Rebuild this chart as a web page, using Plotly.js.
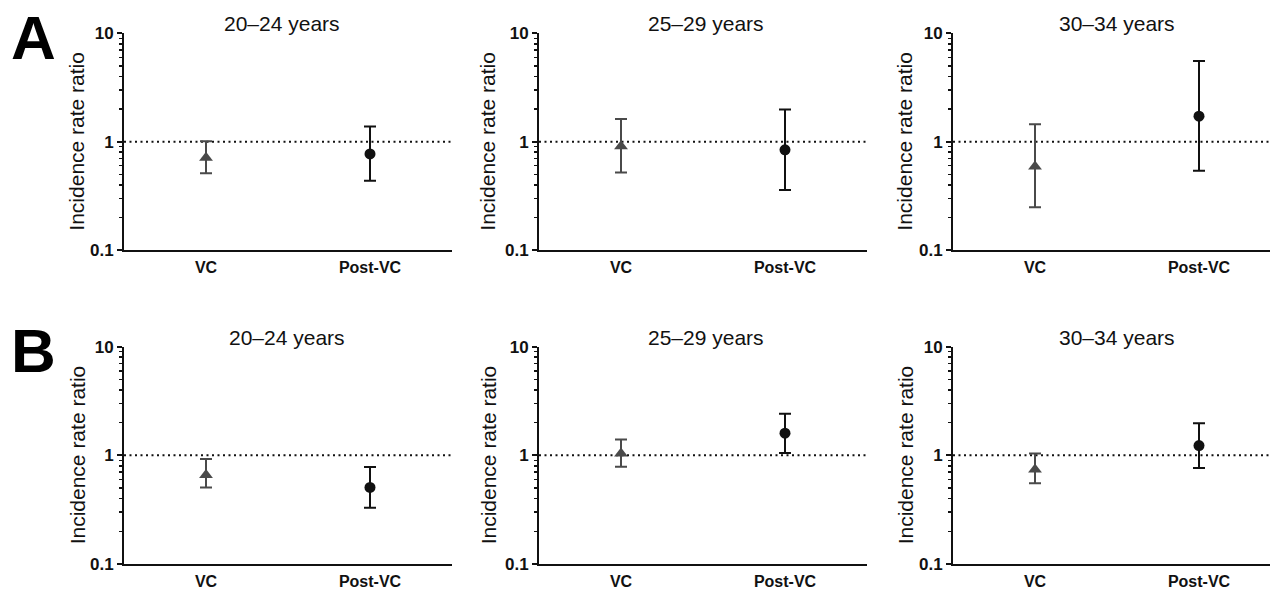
<!DOCTYPE html>
<html>
<head>
<meta charset="utf-8">
<script src="https://cdn.plot.ly/plotly-3.0.1.min.js"></script>
<style>
html,body{margin:0;padding:0;background:#fff;}
#chart{width:1270px;height:590px;}
</style>
</head>
<body>
<div id="chart"></div>
<script>
// ---- data ----
const categories = ['VC', 'Post-VC'];
const ageGroups = ['20–24 years', '25–29 years', '30–34 years'];
const panelLabels = ['A', 'B'];
const yTickVals = [0.1, 1, 10];
const yTickText = ['0.1', '1', '10'];
const yMinorVals = [0.2, 0.3, 0.4, 0.5, 0.6, 0.7, 0.8, 0.9, 2, 3, 4, 5, 6, 7, 8, 9];
const referenceValue = 1;

// Panel A
const estA_VC   = [0.71, 0.905, 0.59];
const upA_VC    = [1.01, 1.62, 1.45];
const loA_VC    = [0.51, 0.52, 0.248];
const estA_Post = [0.77, 0.84, 1.72];
const upA_Post  = [1.38, 1.98, 5.54];
const loA_Post  = [0.435, 0.357, 0.54];

// Panel B
const estB_VC   = [0.66, 1.04, 0.74];
const upB_VC    = [0.925, 1.40, 1.04];
const loB_VC    = [0.507, 0.786, 0.555];
const estB_Post = [0.507, 1.60, 1.23];
const upB_Post  = [0.78, 2.41, 1.97];
const loB_Post  = [0.329, 1.05, 0.764];

// ---- layout geometry ----
const W = 1270, H = 590;
const rowsData = [
  {vc: {est: estA_VC, up: upA_VC, lo: loA_VC}, post: {est: estA_Post, up: upA_Post, lo: loA_Post}},
  {vc: {est: estB_VC, up: upB_VC, lo: loB_VC}, post: {est: estB_Post, up: upB_Post, lo: loB_Post}}
];
const axisLeftPx = [124, 539, 953];
const axisLenPx = 328;
const rowTopPx = [33.3, 346.7];
const rowBotPx = [250, 564];
const titleCx = [[282, 706, 1117], [287, 706, 1117]];
const yTitleCx = [77, 488, 905];
const titleCy = [23, 337];
const letterCy = [37, 350];

const fontFam = 'Liberation Sans, Arial, Helvetica, sans-serif';
const vcColor = '#4a4a4a';
const postColor = '#111111';

const traces = [];
const layout = {
  width: W, height: H,
  margin: {l: 0, r: 0, t: 0, b: 0},
  paper_bgcolor: '#fff', plot_bgcolor: '#fff',
  showlegend: false,
  font: {family: fontFam, color: '#111'},
  shapes: [], annotations: []
};

let n = 0;
for (let r = 0; r < 2; r++) {
  for (let c = 0; c < 3; c++) {
    n++;
    const xa = 'x' + (n === 1 ? '' : n), ya = 'y' + (n === 1 ? '' : n);
    const xk = 'xaxis' + (n === 1 ? '' : n), yk = 'yaxis' + (n === 1 ? '' : n);
    const left = axisLeftPx[c];
    const right = Math.min(left + axisLenPx, W);
    const slot = axisLenPx / categories.length;
    const rangeMax = -0.5 + (right - left) / slot;

    layout[xk] = {
      domain: [left / W, right / W], anchor: ya,
      type: 'category', categoryarray: categories, categoryorder: 'array',
      range: [-0.5, rangeMax],
      showline: true, linewidth: 2, linecolor: '#111',
      ticks: '', showgrid: false, zeroline: false,
      tickfont: {family: fontFam, size: 16, weight: 'bold', color: '#111'},
      ticklabelstandoff: 2,
      fixedrange: true
    };
    layout[yk] = {
      domain: [(H - rowBotPx[r]) / H, (H - rowTopPx[r]) / H], anchor: xa,
      type: 'log', range: [-1, 1],
      tickmode: 'array', tickvals: yTickVals, ticktext: yTickText,
      ticks: 'outside', ticklen: 5, tickwidth: 2, tickcolor: '#111',
      minor: {tickmode: 'array', tickvals: yMinorVals, ticks: 'outside', ticklen: 3, tickwidth: 1.5, tickcolor: '#111', showgrid: false},
      showline: true, linewidth: 2, linecolor: '#111',
      showgrid: false, zeroline: false,
      tickfont: {family: fontFam, size: 17, weight: 'bold', color: '#111'},
      fixedrange: true
    };

    const d = rowsData[r];
    const groups = [
      {key: 'vc', cat: categories[0], color: vcColor, symbol: 'triangle-up', size: 12},
      {key: 'post', cat: categories[1], color: postColor, symbol: 'circle', size: 11}
    ];
    groups.forEach(g => {
      const s = d[g.key];
      traces.push({
        type: 'scatter', mode: 'markers',
        x: [g.cat], y: [s.est[c]],
        xaxis: xa, yaxis: ya,
        marker: {symbol: g.symbol, size: g.size, color: g.color},
        error_y: {
          type: 'data', symmetric: false,
          array: [s.up[c] - s.est[c]], arrayminus: [s.est[c] - s.lo[c]],
          color: g.color, thickness: 2, width: 6
        },
        hoverinfo: 'skip'
      });
    });

    layout.shapes.push({
      type: 'line', xref: xa + ' domain', yref: ya,
      x0: 0, x1: 1, y0: referenceValue, y1: referenceValue,
      line: {color: '#111', width: 2, dash: '2px,3.5px'}, layer: 'below'
    });

    layout.annotations.push({
      text: ageGroups[c], xref: 'paper', yref: 'paper',
      x: titleCx[r][c] / W, y: (H - titleCy[r]) / H,
      xanchor: 'center', yanchor: 'middle', showarrow: false,
      font: {family: fontFam, size: 21, color: '#111'}
    });
    layout.annotations.push({
      text: 'Incidence rate ratio', xref: 'paper', yref: 'paper',
      x: yTitleCx[c] / W, y: (H - (rowTopPx[r] + rowBotPx[r]) / 2) / H,
      xanchor: 'center', yanchor: 'middle', textangle: -90, showarrow: false,
      font: {family: fontFam, size: 21, color: '#111'}
    });
  }
  layout.annotations.push({
    text: panelLabels[r], xref: 'paper', yref: 'paper',
    x: 9 / W, y: (H - letterCy[r]) / H,
    xanchor: 'left', yanchor: 'middle', showarrow: false,
    font: {family: fontFam, size: 62, weight: 'bold', color: '#000'}
  });
}

Plotly.newPlot('chart', traces, layout, {displayModeBar: false, staticPlot: true});
</script>
</body>
</html>
